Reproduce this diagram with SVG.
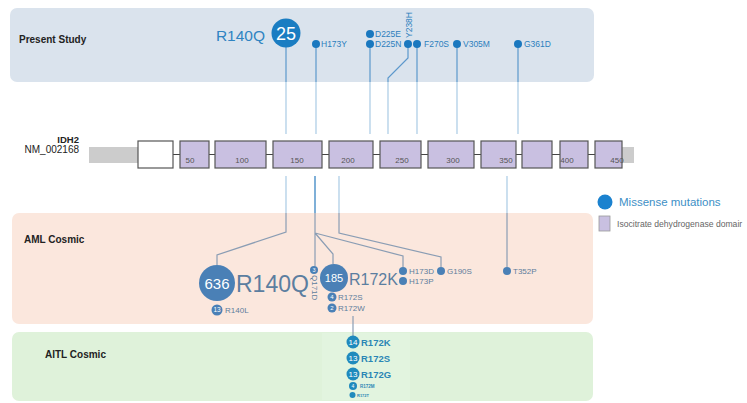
<svg xmlns="http://www.w3.org/2000/svg" width="747" height="403" viewBox="0 0 747 403">
<style>
text{font-family:"Liberation Sans",Arial,sans-serif}
.ptitle{font-weight:bold;font-size:10px;fill:#222}
.box{fill:#c9c0e1;stroke:#555;stroke-width:1.2}
.tick{font-size:8px;fill:#555;text-anchor:middle}
.link{stroke:#444;stroke-width:1.2}
.dot{fill:#1a78bf}
.pslab{font-size:8.5px;fill:#2c7fbd}
.in{fill:none;stroke:#5c98cc;stroke-width:1.2}
.out{fill:none;stroke:#aacbe4;stroke-width:1.2}
.amlin{fill:none;stroke:#8a9db4;stroke-width:1.2}
.aml{fill:#4a80b6}
.amllab{font-size:8px;fill:#5d7d9c}
.num{fill:#fff;text-anchor:middle}
.aitl{fill:#1f8abd}
.aitllab{fill:#2a86b5;font-weight:bold}
</style>
<rect x="0" y="0" width="747" height="403" fill="#fff"/>
<g id="panels">
<rect x="10" y="8" width="584" height="74" rx="7" fill="#dae3ed"/>
<rect x="12" y="213" width="581" height="111" rx="7" fill="#fbe7dd"/>
<rect x="12" y="332" width="581" height="69" rx="7" fill="#dff2da"/>
<rect x="322" y="333" width="88" height="67" fill="#e2f4df"/>
<text class="ptitle" x="19" y="43">Present Study</text>
<text class="ptitle" x="24" y="243">AML Cosmic</text>
<text class="ptitle" x="45" y="358">AITL Cosmic</text>
</g>
<g id="connectors">
<path class="in" d="M286,47V82M316,44V82M370,44V82M408,44V58L388,78V82M417,44V82M457,44V82M518,44V82"/>
<path class="out" d="M286,82V134M316,82V134M370,82V134M388,82V134M417,82V134M457,82V134M518,82V134"/>
<path class="out" d="M286,176V213M339,176V213M507,176V213"/>
<path fill="none" stroke="#7fb0d8" stroke-width="2" d="M315,176V213"/>
<path class="amlin" d="M286,213V232L217,255V265M315,213V266M315,233L333,254V264M315,233L403,256V267M339,213V233L441,257V267M507,213V267M353,316V336"/>
</g>
<g id="gene">
<rect x="89" y="147" width="49" height="16" fill="#cccccc"/>
<rect x="622" y="147" width="12" height="16" fill="#cccccc"/>
<path class="link" d="M173,154.5H180M209,154.5H215M266,154.5H273M322,154.5H329M373,154.5H380M421,154.5H428M474,154.5H481M516,154.5H522M552,154.5H560M588,154.5H595"/>
<rect x="138" y="141" width="35" height="27" fill="#fff" stroke="#555" stroke-width="1.2"/>
<rect class="box" x="180" y="141" width="29" height="27"/>
<rect class="box" x="215" y="141" width="51" height="27"/>
<rect class="box" x="273" y="141" width="49" height="27"/>
<rect class="box" x="329" y="141" width="44" height="27"/>
<rect class="box" x="380" y="141" width="41" height="27"/>
<rect class="box" x="428" y="141" width="46" height="27"/>
<rect class="box" x="481" y="141" width="35" height="27"/>
<rect class="box" x="522" y="141" width="30" height="27"/>
<rect class="box" x="560" y="141" width="28" height="27"/>
<rect class="box" x="595" y="141" width="27" height="27"/>
<text class="tick" x="190" y="162.5">50</text>
<text class="tick" x="242" y="162.5">100</text>
<text class="tick" x="297" y="162.5">150</text>
<text class="tick" x="348" y="162.5">200</text>
<text class="tick" x="402" y="162.5">250</text>
<text class="tick" x="453" y="162.5">300</text>
<text class="tick" x="506" y="162.5">350</text>
<text class="tick" x="567" y="162.5">400</text>
<text class="tick" x="617" y="162.5">450</text>
<text x="79" y="143" font-size="9.5" font-weight="bold" fill="#222" text-anchor="end">IDH2</text>
<text x="79" y="153" font-size="10" fill="#222" text-anchor="end">NM_002168</text>
</g>
<g id="ps-R140Q">
<circle cx="286" cy="33" r="14.5" fill="#1a7dc2"/>
<text class="num" x="286" y="40" font-size="18">25</text>
<text x="265" y="41" font-size="15.5" fill="#2f84c2" text-anchor="end">R140Q</text>
</g>
<g id="ps-H173Y"><circle class="dot" cx="316" cy="44" r="4"/><text class="pslab" x="321" y="47">H173Y</text></g>
<g id="ps-D225E"><circle class="dot" cx="370" cy="34" r="4"/><text class="pslab" x="375" y="37">D225E</text></g>
<g id="ps-D225N"><circle class="dot" cx="370" cy="44" r="4"/><text class="pslab" x="375" y="47">D225N</text></g>
<g id="ps-Y238H"><circle class="dot" cx="408" cy="44" r="4"/><text class="pslab" transform="translate(411.5,38) rotate(-90)">Y238H</text></g>
<g id="ps-F270S"><circle class="dot" cx="417" cy="44" r="4"/><text class="pslab" x="424" y="47">F270S</text></g>
<g id="ps-V305M"><circle class="dot" cx="457" cy="44" r="4"/><text class="pslab" x="463" y="47">V305M</text></g>
<g id="ps-G361D"><circle class="dot" cx="518" cy="44" r="4"/><text class="pslab" x="524" y="47">G361D</text></g>
<g id="aml-R140Q">
<circle class="aml" cx="217" cy="283" r="18"/>
<text class="num" x="217" y="288.5" font-size="15">636</text>
<text x="236" y="292" font-size="23" fill="#5b7ea0">R140Q</text>
</g>
<g id="aml-R140L"><circle class="aml" cx="217" cy="310" r="5.5"/><text class="num" x="217" y="312.3" font-size="6.5">13</text><text class="amllab" x="225" y="313" font-size="7.5">R140L</text></g>
<g id="aml-Q171D"><circle class="aml" cx="314" cy="270" r="4"/><text class="num" x="314" y="272" font-size="5.5">3</text><text class="amllab" font-size="7.5" transform="translate(311.5,275) rotate(90)">Q171D</text></g>
<g id="aml-R172K">
<circle class="aml" cx="334" cy="278" r="14"/>
<text class="num" x="334" y="282" font-size="11">185</text>
<text x="349" y="285" font-size="16" fill="#5b7ea0">R172K</text>
</g>
<g id="aml-R172S"><circle class="aml" cx="332" cy="297" r="4.5"/><text class="num" x="332" y="299" font-size="6">4</text><text class="amllab" x="338" y="300">R172S</text></g>
<g id="aml-R172W"><circle class="aml" cx="332" cy="308" r="4.5"/><text class="num" x="332" y="310" font-size="6">2</text><text class="amllab" x="338" y="311">R172W</text></g>
<g id="aml-H173D"><circle class="aml" cx="403" cy="271" r="4"/><text class="amllab" x="409" y="274">H173D</text></g>
<g id="aml-H173P"><circle class="aml" cx="403" cy="281" r="4"/><text class="amllab" x="409" y="284">H173P</text></g>
<g id="aml-G190S"><circle class="aml" cx="441" cy="271" r="4"/><text class="amllab" x="447" y="274">G190S</text></g>
<g id="aml-T352P"><circle class="aml" cx="507" cy="271" r="4"/><text class="amllab" x="513" y="274">T352P</text></g>
<g id="aitl-R172K"><circle class="aitl" cx="353" cy="342" r="6.5"/><text class="num" x="353" y="345" font-size="8">14</text><text class="aitllab" x="361" y="346" font-size="9.5">R172K</text></g>
<g id="aitl-R172S"><circle class="aitl" cx="353" cy="358" r="6.5"/><text class="num" x="353" y="361" font-size="8">13</text><text class="aitllab" x="361" y="362" font-size="9.5">R172S</text></g>
<g id="aitl-R172G"><circle class="aitl" cx="353" cy="374" r="6.5"/><text class="num" x="353" y="377" font-size="8">13</text><text class="aitllab" x="361" y="378" font-size="9.5">R172G</text></g>
<g id="aitl-R172M"><circle class="aitl" cx="353" cy="386" r="4"/><text class="num" x="353" y="388" font-size="5">4</text><text class="aitllab" x="360" y="388" font-size="4.5">R172M</text></g>
<g id="aitl-R172T"><circle class="aitl" cx="352.5" cy="395" r="3"/><text class="aitllab" x="357" y="397" font-size="4">R172T</text></g>
<g id="legend">
<circle cx="605" cy="202" r="7.5" fill="#1b82cf"/>
<text x="619" y="206" font-size="11.5" fill="#3d8fc6">Missense mutations</text>
<rect x="599" y="216" width="11" height="15" fill="#c9c0e1" stroke="#999" stroke-width="0.8"/>
<text x="617" y="227" font-size="8.6" fill="#666">Isocitrate dehydrogenase domair</text>
</g>
</svg>
